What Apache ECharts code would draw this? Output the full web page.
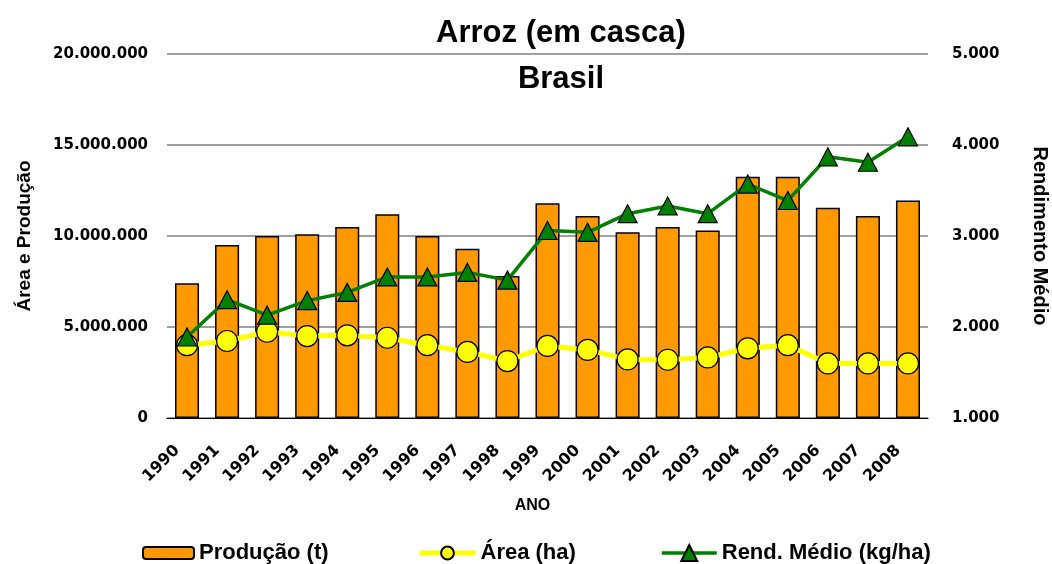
<!DOCTYPE html>
<html>
<head>
<meta charset="utf-8">
<script src="https://cdn.jsdelivr.net/npm/echarts@6/dist/echarts.min.js"></script>
<style>
  html, body { margin: 0; padding: 0; background: #fff; }
  #chart { width: 1052px; height: 564px; }
</style>
</head>
<body>
<div id="chart"></div>
<script>
var years = ['1990', '1991', '1992', '1993', '1994', '1995', '1996', '1997', '1998', '1999',
  '2000', '2001', '2002', '2003', '2004', '2005', '2006', '2007', '2008']
// Produção (t)
var producao = [7400000, 9500000, 10000000, 10100000, 10500000, 11200000, 10000000, 9300000, 7800000, 11800000,
  11100000, 10200000, 10500000, 10300000, 13250000, 13250000, 11550000, 11100000, 11950000]
// Área (ha)
var area = [4000000, 4230000, 4740000, 4500000, 4540000, 4410000, 4000000, 3630000, 3130000, 3960000,
  3740000, 3220000, 3200000, 3330000, 3830000, 4000000, 3000000, 3000000, 3000000]
// Rend. Médio (kg/ha)
var rendimento = [1890, 2300, 2130, 2290, 2380, 2550, 2550, 2600, 2515, 3060,
  3040, 3245, 3330, 3245, 3570, 3390, 3870, 3810, 4090]

var boldFont = 'Liberation Sans, Arial, sans-serif'
var tickFont = 'DejaVu Sans, sans-serif'

function fmt(v) {
  return String(v).replace(/\B(?=(\d{3})+(?!\d))/g, '.')
}

var legendText = { fontSize: 22, fontWeight: 'bold', color: '#000', fontFamily: boldFont }

var chart = echarts.init(document.getElementById('chart'))
chart.setOption({
  animation: false,
  textStyle: { fontFamily: boldFont },
  title: {
    text: 'Arroz (em casca)\nBrasil',
    left: 556,
    textAlign: 'center',
    top: 5,
    textStyle: {
      fontSize: 31,
      fontWeight: 'bold',
      color: '#000',
      lineHeight: 46,
      fontFamily: boldFont
    }
  },
  // one legend per item so each sits where the original puts it
  legend: [
    {
      left: 137,
      top: 537,
      itemWidth: 51,
      itemHeight: 12,
      textStyle: legendText,
      data: ['Produção (t)']
    },
    {
      left: 412,
      top: 537,
      itemWidth: 56,
      itemHeight: 16,
      textStyle: legendText,
      data: [{ name: 'Área (ha)', lineStyle: { width: 5 } }]
    },
    {
      left: 655,
      top: 537,
      itemWidth: 55,
      itemHeight: 20,
      textStyle: legendText,
      data: [{ name: 'Rend. Médio (kg/ha)', lineStyle: { width: 3.5 } }]
    }
  ],
  grid: {
    left: 167,
    right: 124,
    top: 54,
    bottom: 146,
    outerBoundsMode: 'none'
  },
  xAxis: {
    type: 'category',
    data: years,
    name: 'ANO',
    nameLocation: 'middle',
    nameGap: 80,
    nameTextStyle: {
      fontSize: 16,
      fontWeight: 'bold',
      color: '#000',
      padding: [0, 30, 0, 0]
    },
    axisLine: { lineStyle: { color: '#000', width: 1 } },
    axisTick: { show: false },
    axisLabel: {
      rotate: 45,
      margin: 20,
      padding: [0, 14, 0, 0],
      fontSize: 16,
      fontWeight: 'bold',
      color: '#000',
      fontFamily: tickFont,
      interval: 0
    }
  },
  yAxis: [
    {
      type: 'value',
      min: 0,
      max: 20000000,
      interval: 5000000,
      name: 'Área e Produção',
      nameLocation: 'middle',
      nameGap: 133,
      nameRotate: 90,
      nameTextStyle: { fontSize: 19, fontWeight: 'bold', color: '#000' },
      axisLine: { show: false },
      axisTick: { show: false },
      splitLine: { lineStyle: { color: '#808080', width: 1.5 } },
      axisLabel: {
        margin: 19,
        fontSize: 15,
        fontWeight: 'bold',
        color: '#000',
        fontFamily: tickFont,
        formatter: fmt
      }
    },
    {
      type: 'value',
      min: 1000,
      max: 5000,
      interval: 1000,
      name: 'Rendimento Médio',
      nameLocation: 'middle',
      nameGap: 102,
      nameRotate: -90,
      nameTextStyle: { fontSize: 20, fontWeight: 'bold', color: '#000' },
      axisLine: { show: false },
      axisTick: { show: false },
      splitLine: { show: false },
      axisLabel: {
        margin: 24,
        fontSize: 15,
        fontWeight: 'bold',
        color: '#000',
        fontFamily: tickFont,
        formatter: fmt
      }
    }
  ],
  series: [
    {
      name: 'Produção (t)',
      type: 'bar',
      yAxisIndex: 0,
      barWidth: '60%',
      itemStyle: { color: '#FF9900', borderColor: '#000', borderWidth: 1.5 },
      data: producao
    },
    {
      name: 'Área (ha)',
      type: 'line',
      yAxisIndex: 0,
      symbol: 'circle',
      symbolSize: 21,
      lineStyle: { color: '#FFFF00', width: 5 },
      itemStyle: { color: '#FFFF00', borderColor: '#000', borderWidth: 1.2 },
      data: area
    },
    {
      name: 'Rend. Médio (kg/ha)',
      type: 'line',
      yAxisIndex: 1,
      symbol: 'triangle',
      symbolSize: [19, 18],
      lineStyle: { color: '#008000', width: 3.5 },
      itemStyle: { color: '#008000', borderColor: '#000', borderWidth: 1.2 },
      data: rendimento
    }
  ]
})
</script>
</body>
</html>
